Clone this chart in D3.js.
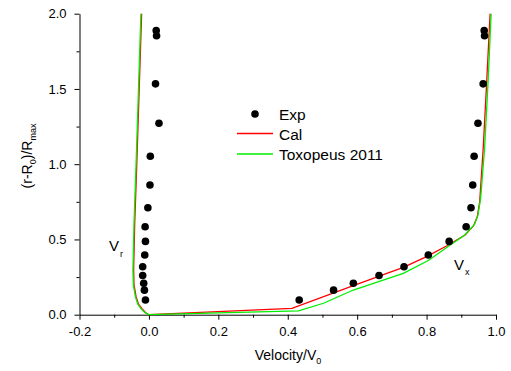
<!DOCTYPE html>
<html>
<head>
<meta charset="utf-8">
<script src="https://cdn.jsdelivr.net/npm/d3@7"></script>
<style>
  body { margin: 0; background: #fff; }
  text { font-family: "Liberation Sans", Arial, sans-serif; fill: #000; }
</style>
</head>
<body>
<div class="chart"></div>
<script>
// experimental points (shared radial positions)
var rExp  = [1.888, 1.853, 1.534, 1.272, 1.053, 0.862, 0.711, 0.584, 0.487, 0.397, 0.319, 0.260, 0.209, 0.163, 0.098];
var vrExp = [0.021, 0.022, 0.019, 0.029, 0.004, 0.003, -0.003, -0.011, -0.010, -0.012, -0.018, -0.018, -0.015, -0.013, -0.010];
var vxExp = [0.966, 0.967, 0.963, 0.948, 0.937, 0.933, 0.928, 0.914, 0.865, 0.805, 0.735, 0.663, 0.589, 0.532, 0.433];

// Cal (red)
var calVrV = [-0.021, -0.028, -0.035, -0.041, -0.044, -0.043, -0.037, -0.030, -0.020, -0.010, 0];
var calVrR = [2.0, 1.5, 1.0, 0.6, 0.3, 0.2, 0.12, 0.07, 0.04, 0.015, 0];
var calVxV = [0, 0.412, 0.589, 0.733, 0.800, 0.860, 0.911, 0.935, 0.946, 0.953, 0.963, 0.973, 0.983];
var calVxR = [0, 0.042, 0.193, 0.314, 0.386, 0.460, 0.530, 0.590, 0.650, 0.750, 1.100, 1.540, 2.000];

// Toxopeus 2011 (green)
var toxVrV = [-0.023, -0.030, -0.037, -0.043, -0.046, -0.045, -0.039, -0.032, -0.023, -0.012, 0];
var toxVrR = [2.0, 1.5, 1.0, 0.6, 0.3, 0.2, 0.12, 0.07, 0.04, 0.015, 0];
var toxVxV = [0, 0.431, 0.503, 0.589, 0.733, 0.805, 0.860, 0.910, 0.938, 0.948, 0.956, 0.967, 0.977, 0.986];
var toxVxR = [0, 0.025, 0.076, 0.164, 0.275, 0.360, 0.450, 0.530, 0.600, 0.660, 0.780, 1.100, 1.540, 2.000];

var xTicks = [-0.2, 0.0, 0.2, 0.4, 0.6, 0.8, 1.0];
var yTicks = [0.0, 0.5, 1.0, 1.5, 2.0];

var svg = d3.select('.chart').append('svg')
            .attr('width', 511)
            .attr('height', 371);

var x = d3.scaleLinear().domain([-0.2, 1.0]).range([79.5, 496]);
var y = d3.scaleLinear().domain([0, 2]).range([314.7, 13.7]);

var fmt = function(d){ return d.toFixed(1); };

// minor ticks
var xMinor = xTicks.slice(0, -1).map(function(d){ return d + 0.1; });
var yMinor = yTicks.slice(0, -1).map(function(d){ return d + 0.25; });

svg.append('g').attr('transform', 'translate(0,314.7)')
   .call(d3.axisBottom(x).tickValues(xMinor).tickSize(3).tickFormat(''))
   .call(function(g){ g.select('.domain').remove(); });
svg.append('g').attr('transform', 'translate(79.5,0)')
   .call(d3.axisLeft(y).tickValues(yMinor).tickSize(3).tickFormat(''))
   .call(function(g){ g.select('.domain').remove(); });

svg.append('g').attr('transform', 'translate(0,314.7)')
   .call(d3.axisBottom(x).tickValues(xTicks).tickSize(5).tickSizeOuter(0).tickPadding(7).tickFormat(fmt));
svg.append('g').attr('transform', 'translate(79.5,0)')
   .call(d3.axisLeft(y).tickValues(yTicks).tickSize(5).tickSizeOuter(0).tickPadding(8).tickFormat(fmt));

svg.selectAll('.tick text').attr('font-size', 13).style('font-family', '"Liberation Sans", Arial, sans-serif').attr('fill', '#000');
svg.selectAll('.domain, .tick line').attr('stroke', '#000');

function pairs(vs, rs) { return vs.map(function(v, i){ return [v, rs[i]]; }); }

var line = d3.line().x(function(d){ return x(d[0]); }).y(function(d){ return y(d[1]); });

var curves = [
  { pts: pairs(calVrV, calVrR), color: '#ff0000' },
  { pts: pairs(calVxV, calVxR), color: '#ff0000' },
  { pts: pairs(toxVrV, toxVrR), color: '#00ee00' },
  { pts: pairs(toxVxV, toxVxR), color: '#00ee00' }
];

svg.selectAll('path.curve')
   .data(curves)
   .enter().append('path')
     .attr('class', 'curve')
     .attr('d', function(d){ return line(d.pts); })
     .attr('fill', 'none')
     .attr('stroke', function(d){ return d.color; })
     .attr('stroke-width', 1.3);

var dots = pairs(vrExp, rExp).concat(pairs(vxExp, rExp));
svg.selectAll('circle.exp')
   .data(dots)
   .enter().append('circle')
     .attr('class', 'exp')
     .attr('cx', function(d){ return x(d[0]); })
     .attr('cy', function(d){ return y(d[1]); })
     .attr('r', 3.8)
     .attr('fill', '#000');

// legend
var leg = svg.append('g');
leg.append('circle').attr('cx', 255).attr('cy', 114).attr('r', 3.8).attr('fill', '#000');
leg.append('line').attr('x1', 237).attr('x2', 273).attr('y1', 133.5).attr('y2', 133.5).attr('stroke', '#ff0000').attr('stroke-width', 1.3);
leg.append('line').attr('x1', 237).attr('x2', 273).attr('y1', 154).attr('y2', 154).attr('stroke', '#00ee00').attr('stroke-width', 1.3);
var labels = ['Exp', 'Cal', 'Toxopeus 2011'];
leg.selectAll('text').data(labels).enter().append('text')
   .attr('x', 279).attr('y', function(d, i){ return 119.5 + i * 20; })
   .attr('font-size', 15.5)
   .text(function(d){ return d; });

// axis titles
var xt = svg.append('text').attr('x', 288).attr('y', 360).attr('text-anchor', 'middle').attr('font-size', 14);
xt.append('tspan').text('Velocity/V');
xt.append('tspan').attr('font-size', 9).attr('dy', 4).text('0');

var yt = svg.append('text').attr('transform', 'translate(32,156) rotate(-90)').attr('text-anchor', 'middle').attr('font-size', 14);
yt.append('tspan').text('(r-R');
yt.append('tspan').attr('font-size', 9).attr('dy', 4).text('0');
yt.append('tspan').attr('dy', -4).text(')/R');
yt.append('tspan').attr('font-size', 9).attr('dy', 4).text('max');

// curve labels
var vr = svg.append('text').attr('x', 109).attr('y', 251).attr('font-size', 15);
vr.append('tspan').text('V');
vr.append('tspan').attr('font-size', 9).attr('dy', 6).attr('dx', 1).text('r');
var vx = svg.append('text').attr('x', 454).attr('y', 269.5).attr('font-size', 15);
vx.append('tspan').text('V');
vx.append('tspan').attr('font-size', 9).attr('dy', 5).attr('dx', 1).text('x');
</script>
</body>
</html>
